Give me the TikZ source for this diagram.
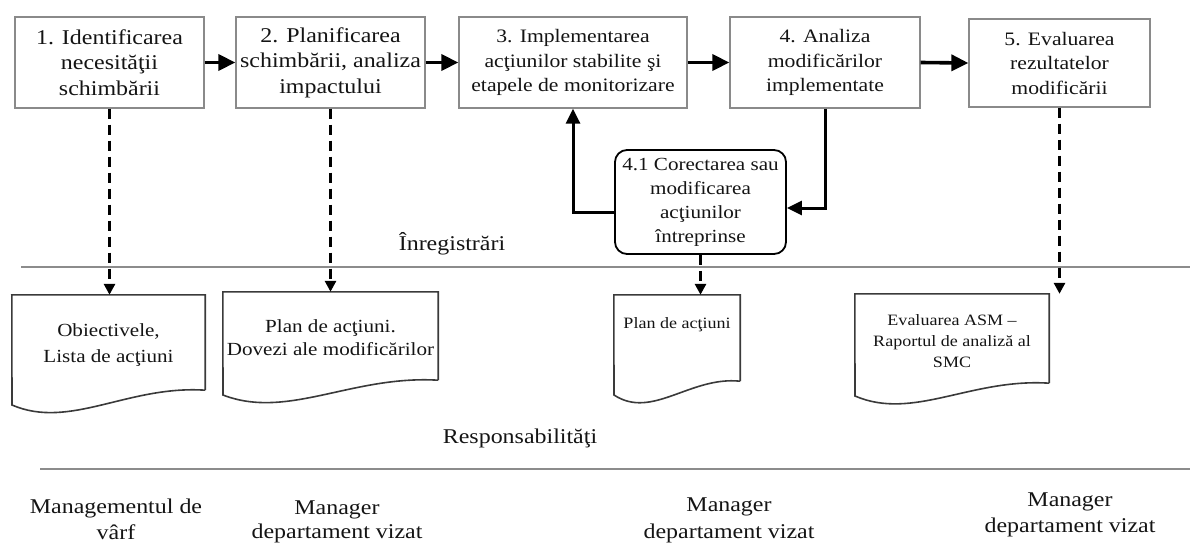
\documentclass[tikz,border=0pt]{standalone}
\usepackage{fontspec}
\setmainfont{Liberation Serif}[FakeStretch=1.14]
\usetikzlibrary{arrows.meta,calc}
\definecolor{boxgray}{HTML}{8A8A8A}
\definecolor{ink}{HTML}{141414}
\definecolor{sepgray}{HTML}{8C8C8C}
\definecolor{docline}{HTML}{3A3A3A}
\begin{document}
\begin{tikzpicture}[x=1pt,y=-1pt,
  every node/.style={text=ink, align=center, inner sep=0pt},
  fbig/.style={font=\fontsize{21}{25.5}\selectfont},
  fmid/.style={font=\fontsize{19}{24.5}\selectfont},
  fdoc/.style={font=\fontsize{18.5}{24}\selectfont},
  fsmall/.style={font=\fontsize{15.8}{21}\selectfont},
  stepbox/.style={draw=boxgray, line width=1.3pt, fill=white},
  corrbox/.style={draw=black, line width=1.8pt, rounded corners=12pt, fill=white},
  docarea/.style={draw=none, minimum width=#1},
  docshape/.style={draw=docline, line width=1.6pt},
  flowarrow/.style={draw=black, line width=3.6pt, -{Triangle[length=17pt,width=16pt]}},
  backarrow/.style={draw=black, line width=3pt, -{Triangle[length=15pt,width=14pt]}},
  recarrow/.style={draw=black, line width=3pt, dash pattern=on 10pt off 6pt, -{Triangle[length=11pt,width=11pt]}},
  sepline/.style={draw=sepgray, line width=1.6pt}
]
\useasboundingbox (0,0) rectangle (1190,546);

% top process boxes
\node[stepbox, fbig, minimum width=189pt, minimum height=91pt] (b1) at (109.5,62.5) {1. Identificarea\\necesităţii\\schimbării};
\node[stepbox, fbig, minimum width=189pt, minimum height=91pt] (b2) at (330.5,62.5) {2. Planificarea\\schimbării, analiza\\impactului};
\node[stepbox, fmid, minimum width=228pt, minimum height=91pt] (b3) at (573,62.5) {3. Implementarea\\acţiunilor stabilite şi\\etapele de monitorizare};
\node[stepbox, fmid, minimum width=190pt, minimum height=91pt] (b4) at (825,62.5) {4. Analiza\\modificărilor\\implementate};
\node[stepbox, fmid, minimum width=181pt, minimum height=88pt] (b5) at (1059.5,63) {5. Evaluarea\\rezultatelor\\modificării};

% correction box
\node[corrbox, fdoc, minimum width=171pt, minimum height=104pt] (b41) at (700.5,202) {4.1 Corectarea sau\\modificarea\\acţiunilor\\întreprinse};

% flow arrows
\draw[flowarrow] (b1.east) -- (b2.west);
\draw[flowarrow] (b2.east) -- (b3.west);
\draw[flowarrow] (b3.east) -- (b4.west);
\draw[flowarrow] (b4.east) -- (b5.west);

% feedback loop
\draw[backarrow] ([yshift=-10pt]b41.west) -| (b3.south);
\draw[backarrow] (b4.south) |- ([yshift=-6pt]b41.east);

% section labels and separators
\node[fbig] (lreg) at (452,244) {Înregistrări};
\coordinate (s1a) at (21,267);
\coordinate (s1b) at (1190,267);
\draw[sepline] (s1a) -- (s1b);
\node[fbig] (lresp) at (520,438) {Responsabilităţi};
\coordinate (s2a) at (40,469);
\coordinate (s2b) at (1190,469);
\draw[sepline] (s2a) -- (s2b);

% documents
\node[docarea=193pt, minimum height=95pt] (d1) at (108.5,342.5) {};
\draw[docshape] (d1.south east) -- (d1.north east) -- (d1.north west) -- (12,405)
  .. controls (70,430) and (128,385) .. (d1.south east);
\node[fdoc, font=\fontsize{18.5}{26}\selectfont] (t1) at (108.5,345) {Obiectivele,\\Lista de acţiuni};

\node[docarea=215pt, minimum height=88pt] (d2) at (330.5,336) {};
\draw[docshape] (d2.south east) -- (d2.north east) -- (d2.north west) -- (223,395)
  .. controls (287.5,420) and (352,375) .. (d2.south east);
\node[fdoc, font=\fontsize{18.5}{23}\selectfont] (t2) at (330.5,338) {Plan de acţiuni.\\Dovezi ale modificărilor};

\node[docarea=126pt, minimum height=86pt] (d3) at (677,338) {};
\draw[docshape] (d3.south east) -- (d3.north east) -- (d3.north west) -- (614,395)
  .. controls (652,420) and (690,376) .. (d3.south east);
\node[fsmall] (t3) at (677,325) {Plan de acţiuni};

\node[docarea=194pt, minimum height=89pt] (d4) at (952,338.5) {};
\draw[docshape] (d4.south east) -- (d4.north east) -- (d4.north west) -- (855,396)
  .. controls (913,421) and (971,378) .. (d4.south east);
\node[fsmall] (t4) at (952,341) {Evaluarea ASM --\\Raportul de analiză al\\SMC};

% record arrows (dashed)
\draw[recarrow] (b1.south) -- (b1.south |- d1.north);
\draw[recarrow] (b2.south) -- (b2.south |- d2.north);
\draw[recarrow] (b41.south) -- (b41.south |- d3.north);
\draw[recarrow] (b5.south) -- (b5.south |- d4.north);

% responsibilities
\node[fbig, font=\fontsize{21}{26}\selectfont] (r1) at (116,519) {Managementul de\\vârf};
\node[fbig, font=\fontsize{21}{24}\selectfont] (r2) at (337,522) {Manager\\departament vizat};
\node[fbig, font=\fontsize{21}{27}\selectfont] (r3) at (729,520) {Manager\\departament vizat};
\node[fbig, font=\fontsize{21}{26}\selectfont] (r4) at (1070,515) {Manager\\departament vizat};
\end{tikzpicture}
\end{document}
